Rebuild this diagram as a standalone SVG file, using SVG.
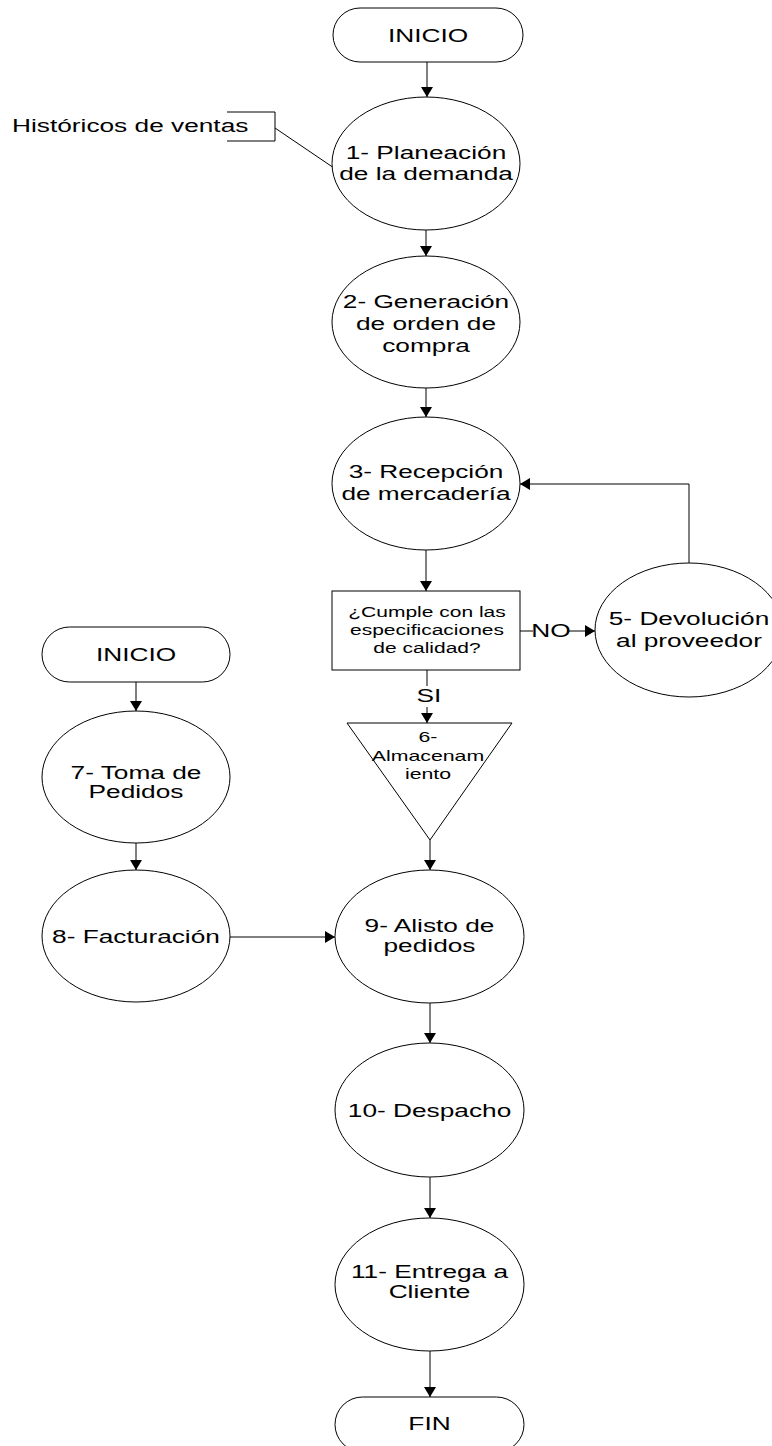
<svg xmlns="http://www.w3.org/2000/svg" width="772" height="1446" viewBox="0 0 772 1446">
  <style>
    .shape { fill: #ffffff; stroke: #000000; stroke-width: 1; }
    .wire { fill: none; stroke: #000000; stroke-width: 1; }
    .arrow { fill: none; stroke: #000000; stroke-width: 1; marker-end: url(#head); }
    text { font-family: "Liberation Sans", Arial, sans-serif; fill: #000000; }
    .lbl { font-size: 18.5px; text-anchor: middle; }
    .small { font-size: 15px; text-anchor: middle; }
  </style>
  <defs>
    <marker id="head" markerUnits="userSpaceOnUse" markerWidth="10" markerHeight="12" refX="10" refY="6" orient="auto">
      <path d="M0,0 L10,6 L0,12 Z" fill="#000000"/>
    </marker>
  </defs>
  <rect width="772" height="1446" fill="#ffffff"/>

  <!-- connectors -->
  <g id="connectors">
    <line class="arrow" x1="427" y1="62" x2="427" y2="97"/>
    <polyline class="wire" points="227,112 275,112 275,141 227,141"/>
    <line class="wire" x1="275" y1="128" x2="334" y2="168"/>
    <line class="arrow" x1="426" y1="230" x2="426" y2="256"/>
    <line class="arrow" x1="426" y1="388" x2="426" y2="417"/>
    <line class="arrow" x1="426" y1="550" x2="426" y2="591"/>
    <line class="wire" x1="520" y1="631" x2="533" y2="631"/>
    <line class="arrow" x1="567" y1="631" x2="595" y2="631"/>
    <polyline class="arrow" points="689,563 689,484 520,484"/>
    <line class="wire" x1="427" y1="670" x2="427" y2="686"/>
    <line class="arrow" x1="427" y1="707" x2="427" y2="723"/>
    <line class="arrow" x1="430" y1="840" x2="430" y2="870"/>
    <line class="arrow" x1="136" y1="682" x2="136" y2="711"/>
    <line class="arrow" x1="136" y1="843" x2="136" y2="870"/>
    <line class="arrow" x1="230" y1="937" x2="335" y2="937"/>
    <line class="arrow" x1="430" y1="1003" x2="430" y2="1043"/>
    <line class="arrow" x1="430" y1="1177" x2="430" y2="1218"/>
    <line class="arrow" x1="430" y1="1351" x2="430" y2="1397"/>
  </g>

  <!-- connector labels -->
  <g id="label-no" transform="translate(551,0) scale(1.42,1)">
    <text class="lbl" x="0" y="637">NO</text>
  </g>
  <g id="label-si" transform="translate(429,0) scale(1.42,1)">
    <text class="lbl" x="0" y="702">SI</text>
  </g>

  <!-- data source -->
  <g id="historicos" transform="translate(12,0) scale(1.42,1)">
    <text x="0" y="132" font-size="18.5">Históricos de ventas</text>
  </g>

  <g id="inicio-1">
    <rect class="shape" x="333" y="8" width="190" height="54" rx="27" ry="27"/>
    <g transform="translate(428,0) scale(1.42,1)"><text class="lbl" x="0" y="42">INICIO</text></g>
  </g>

  <g id="n1-planeacion">
    <ellipse class="shape" cx="426" cy="163.5" rx="94" ry="66.5"/>
    <g transform="translate(426,0) scale(1.42,1)">
      <text class="lbl" x="0" y="159">1- Planeación</text>
      <text class="lbl" x="0" y="180">de la demanda</text>
    </g>
  </g>

  <g id="n2-orden">
    <ellipse class="shape" cx="426" cy="322" rx="94" ry="66"/>
    <g transform="translate(426,0) scale(1.42,1)">
      <text class="lbl" x="0" y="308">2- Generación</text>
      <text class="lbl" x="0" y="330">de orden de</text>
      <text class="lbl" x="0" y="352">compra</text>
    </g>
  </g>

  <g id="n3-recepcion">
    <ellipse class="shape" cx="426" cy="483.5" rx="94" ry="66.5"/>
    <g transform="translate(426,0) scale(1.42,1)">
      <text class="lbl" x="0" y="478">3- Recepción</text>
      <text class="lbl" x="0" y="500">de mercadería</text>
    </g>
  </g>

  <g id="n4-calidad">
    <rect class="shape" x="332" y="591" width="188" height="79"/>
    <g transform="translate(427,0) scale(1.4,1)">
      <text class="small" x="0" y="617">¿Cumple con las</text>
      <text class="small" x="0" y="635">especificaciones</text>
      <text class="small" x="0" y="653">de calidad?</text>
    </g>
  </g>

  <g id="n5-devolucion">
    <ellipse class="shape" cx="689" cy="630" rx="94" ry="67"/>
    <g transform="translate(689,0) scale(1.42,1)">
      <text class="lbl" x="0" y="625">5- Devolución</text>
      <text class="lbl" x="0" y="647">al proveedor</text>
    </g>
  </g>

  <g id="n6-almacenamiento">
    <polygon class="shape" points="347,723 512,723 430,840"/>
    <g transform="translate(428,0) scale(1.42,1)">
      <text class="small" x="0" y="742">6-</text>
      <text class="small" x="0" y="761">Almacenam</text>
      <text class="small" x="0" y="779">iento</text>
    </g>
  </g>

  <g id="inicio-2">
    <rect class="shape" x="42" y="627" width="188" height="55" rx="27.5" ry="27.5"/>
    <g transform="translate(136,0) scale(1.42,1)"><text class="lbl" x="0" y="661">INICIO</text></g>
  </g>

  <g id="n7-pedidos">
    <ellipse class="shape" cx="136" cy="777" rx="94" ry="66"/>
    <g transform="translate(136,0) scale(1.42,1)">
      <text class="lbl" x="0" y="779">7- Toma de</text>
      <text class="lbl" x="0" y="798">Pedidos</text>
    </g>
  </g>

  <g id="n8-facturacion">
    <ellipse class="shape" cx="136" cy="936" rx="94" ry="66"/>
    <g transform="translate(136,0) scale(1.42,1)">
      <text class="lbl" x="0" y="943">8- Facturación</text>
    </g>
  </g>

  <g id="n9-alisto">
    <ellipse class="shape" cx="429.5" cy="936.5" rx="94.5" ry="66.5"/>
    <g transform="translate(429.5,0) scale(1.42,1)">
      <text class="lbl" x="0" y="932">9- Alisto de</text>
      <text class="lbl" x="0" y="952">pedidos</text>
    </g>
  </g>

  <g id="n10-despacho">
    <ellipse class="shape" cx="429.5" cy="1110" rx="94.5" ry="67"/>
    <g transform="translate(429.5,0) scale(1.42,1)">
      <text class="lbl" x="0" y="1117">10- Despacho</text>
    </g>
  </g>

  <g id="n11-entrega">
    <ellipse class="shape" cx="429.5" cy="1284.5" rx="94.5" ry="66.5"/>
    <g transform="translate(429.5,0) scale(1.42,1)">
      <text class="lbl" x="0" y="1278">11- Entrega a</text>
      <text class="lbl" x="0" y="1298">Cliente</text>
    </g>
  </g>

  <g id="fin">
    <rect class="shape" x="335" y="1397" width="189" height="55" rx="27.5" ry="27.5"/>
    <g transform="translate(429.5,0) scale(1.42,1)"><text class="lbl" x="0" y="1430">FIN</text></g>
  </g>
</svg>
